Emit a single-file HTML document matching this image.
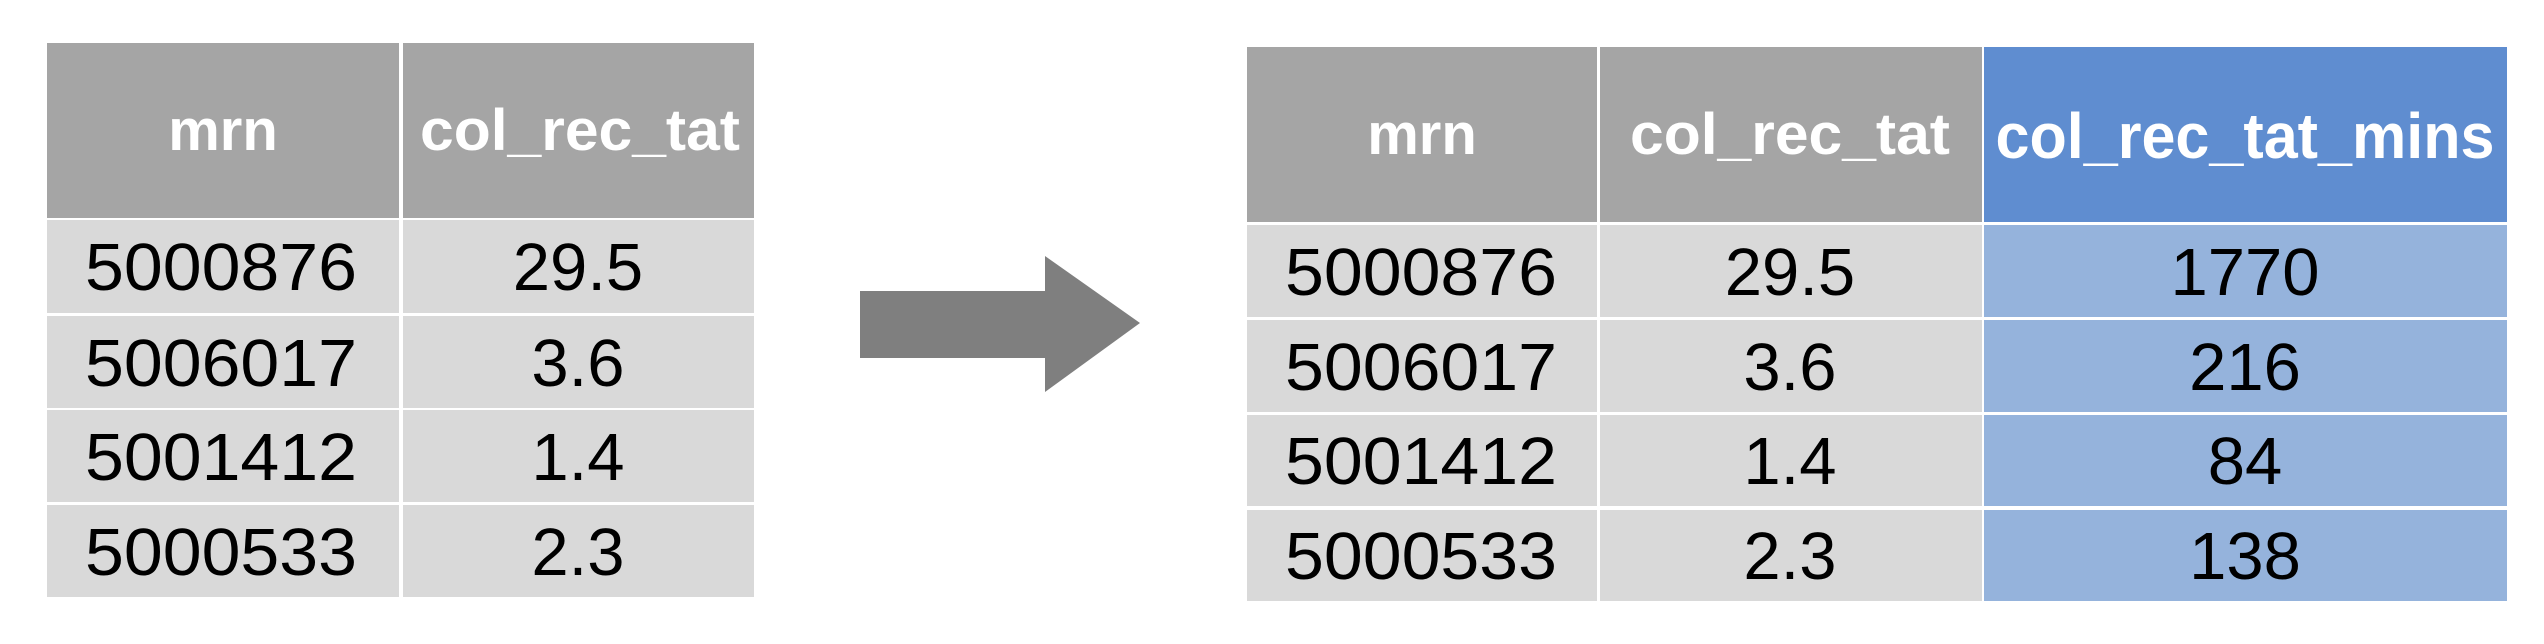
<!DOCTYPE html>
<html><head><meta charset="utf-8"><style>
html,body{margin:0;padding:0;background:#fff;}
svg{display:block;}
text{font-family:"Liberation Sans",sans-serif;}
.h{font-weight:bold;fill:#fff;font-size:58px;}
.d{fill:#000;font-size:67px;}
</style></head><body>
<svg width="2544" height="644" viewBox="0 0 2544 644" xmlns="http://www.w3.org/2000/svg">
<!-- left table -->
<rect x="47" y="43" width="352" height="175" fill="#a5a5a5"/>
<rect x="403" y="43" width="351" height="175" fill="#a5a5a5"/>
<g fill="#d9d9d9">
<rect x="47" y="220" width="352" height="93"/><rect x="403" y="220" width="351" height="93"/>
<rect x="47" y="316" width="352" height="92"/><rect x="403" y="316" width="351" height="92"/>
<rect x="47" y="410" width="352" height="92"/><rect x="403" y="410" width="351" height="92"/>
<rect x="47" y="505" width="352" height="92"/><rect x="403" y="505" width="351" height="92"/>
</g>
<text class="h" x="223" y="150" text-anchor="middle">mrn</text>
<text class="h" x="580" y="150" text-anchor="middle" textLength="320" lengthAdjust="spacingAndGlyphs">col_rec_tat</text>
<g class="d" text-anchor="middle">
<text x="221" y="290" textLength="272" lengthAdjust="spacingAndGlyphs">5000876</text>
<text x="221" y="386" textLength="272" lengthAdjust="spacingAndGlyphs">5006017</text>
<text x="221" y="480" textLength="272" lengthAdjust="spacingAndGlyphs">5001412</text>
<text x="221" y="575" textLength="272" lengthAdjust="spacingAndGlyphs">5000533</text>
<text x="578" y="290">29.5</text>
<text x="578" y="386">3.6</text>
<text x="578" y="480">1.4</text>
<text x="578" y="575">2.3</text>
</g>
<!-- arrow -->
<polygon points="860,291 1045,291 1045,256 1140,323 1045,392 1045,358 860,358" fill="#7f7f7f"/>
<!-- right table -->
<rect x="1247" y="47" width="350" height="175" fill="#a5a5a5"/>
<rect x="1600" y="47" width="382" height="175" fill="#a5a5a5"/>
<rect x="1984" y="47" width="523" height="175" fill="#5f8dd0"/>
<g>
<rect x="1247" y="225" width="350" height="92" fill="#d9d9d9"/><rect x="1600" y="225" width="382" height="92" fill="#d9d9d9"/><rect x="1984" y="225" width="523" height="92" fill="#95b3dc"/>
<rect x="1247" y="320" width="350" height="92" fill="#d9d9d9"/><rect x="1600" y="320" width="382" height="92" fill="#d9d9d9"/><rect x="1984" y="320" width="523" height="92" fill="#95b3dc"/>
<rect x="1247" y="415" width="350" height="91" fill="#d9d9d9"/><rect x="1600" y="415" width="382" height="91" fill="#d9d9d9"/><rect x="1984" y="415" width="523" height="91" fill="#95b3dc"/>
<rect x="1247" y="510" width="350" height="91" fill="#d9d9d9"/><rect x="1600" y="510" width="382" height="91" fill="#d9d9d9"/><rect x="1984" y="510" width="523" height="91" fill="#95b3dc"/>
</g>
<text class="h" x="1422" y="154" text-anchor="middle">mrn</text>
<text class="h" x="1790" y="154" text-anchor="middle" textLength="320" lengthAdjust="spacingAndGlyphs">col_rec_tat</text>
<text class="h" x="2245" y="158" text-anchor="middle" style="font-size:64px" textLength="499" lengthAdjust="spacingAndGlyphs">col_rec_tat_mins</text>
<g class="d" text-anchor="middle">
<text x="1421" y="295" textLength="272" lengthAdjust="spacingAndGlyphs">5000876</text>
<text x="1421" y="390" textLength="272" lengthAdjust="spacingAndGlyphs">5006017</text>
<text x="1421" y="484" textLength="272" lengthAdjust="spacingAndGlyphs">5001412</text>
<text x="1421" y="579" textLength="272" lengthAdjust="spacingAndGlyphs">5000533</text>
<text x="1790" y="295">29.5</text>
<text x="1790" y="390">3.6</text>
<text x="1790" y="484">1.4</text>
<text x="1790" y="579">2.3</text>
<text x="2245" y="295">1770</text>
<text x="2245" y="390">216</text>
<text x="2245" y="484">84</text>
<text x="2245" y="579">138</text>
</g>
</svg>
</body></html>
